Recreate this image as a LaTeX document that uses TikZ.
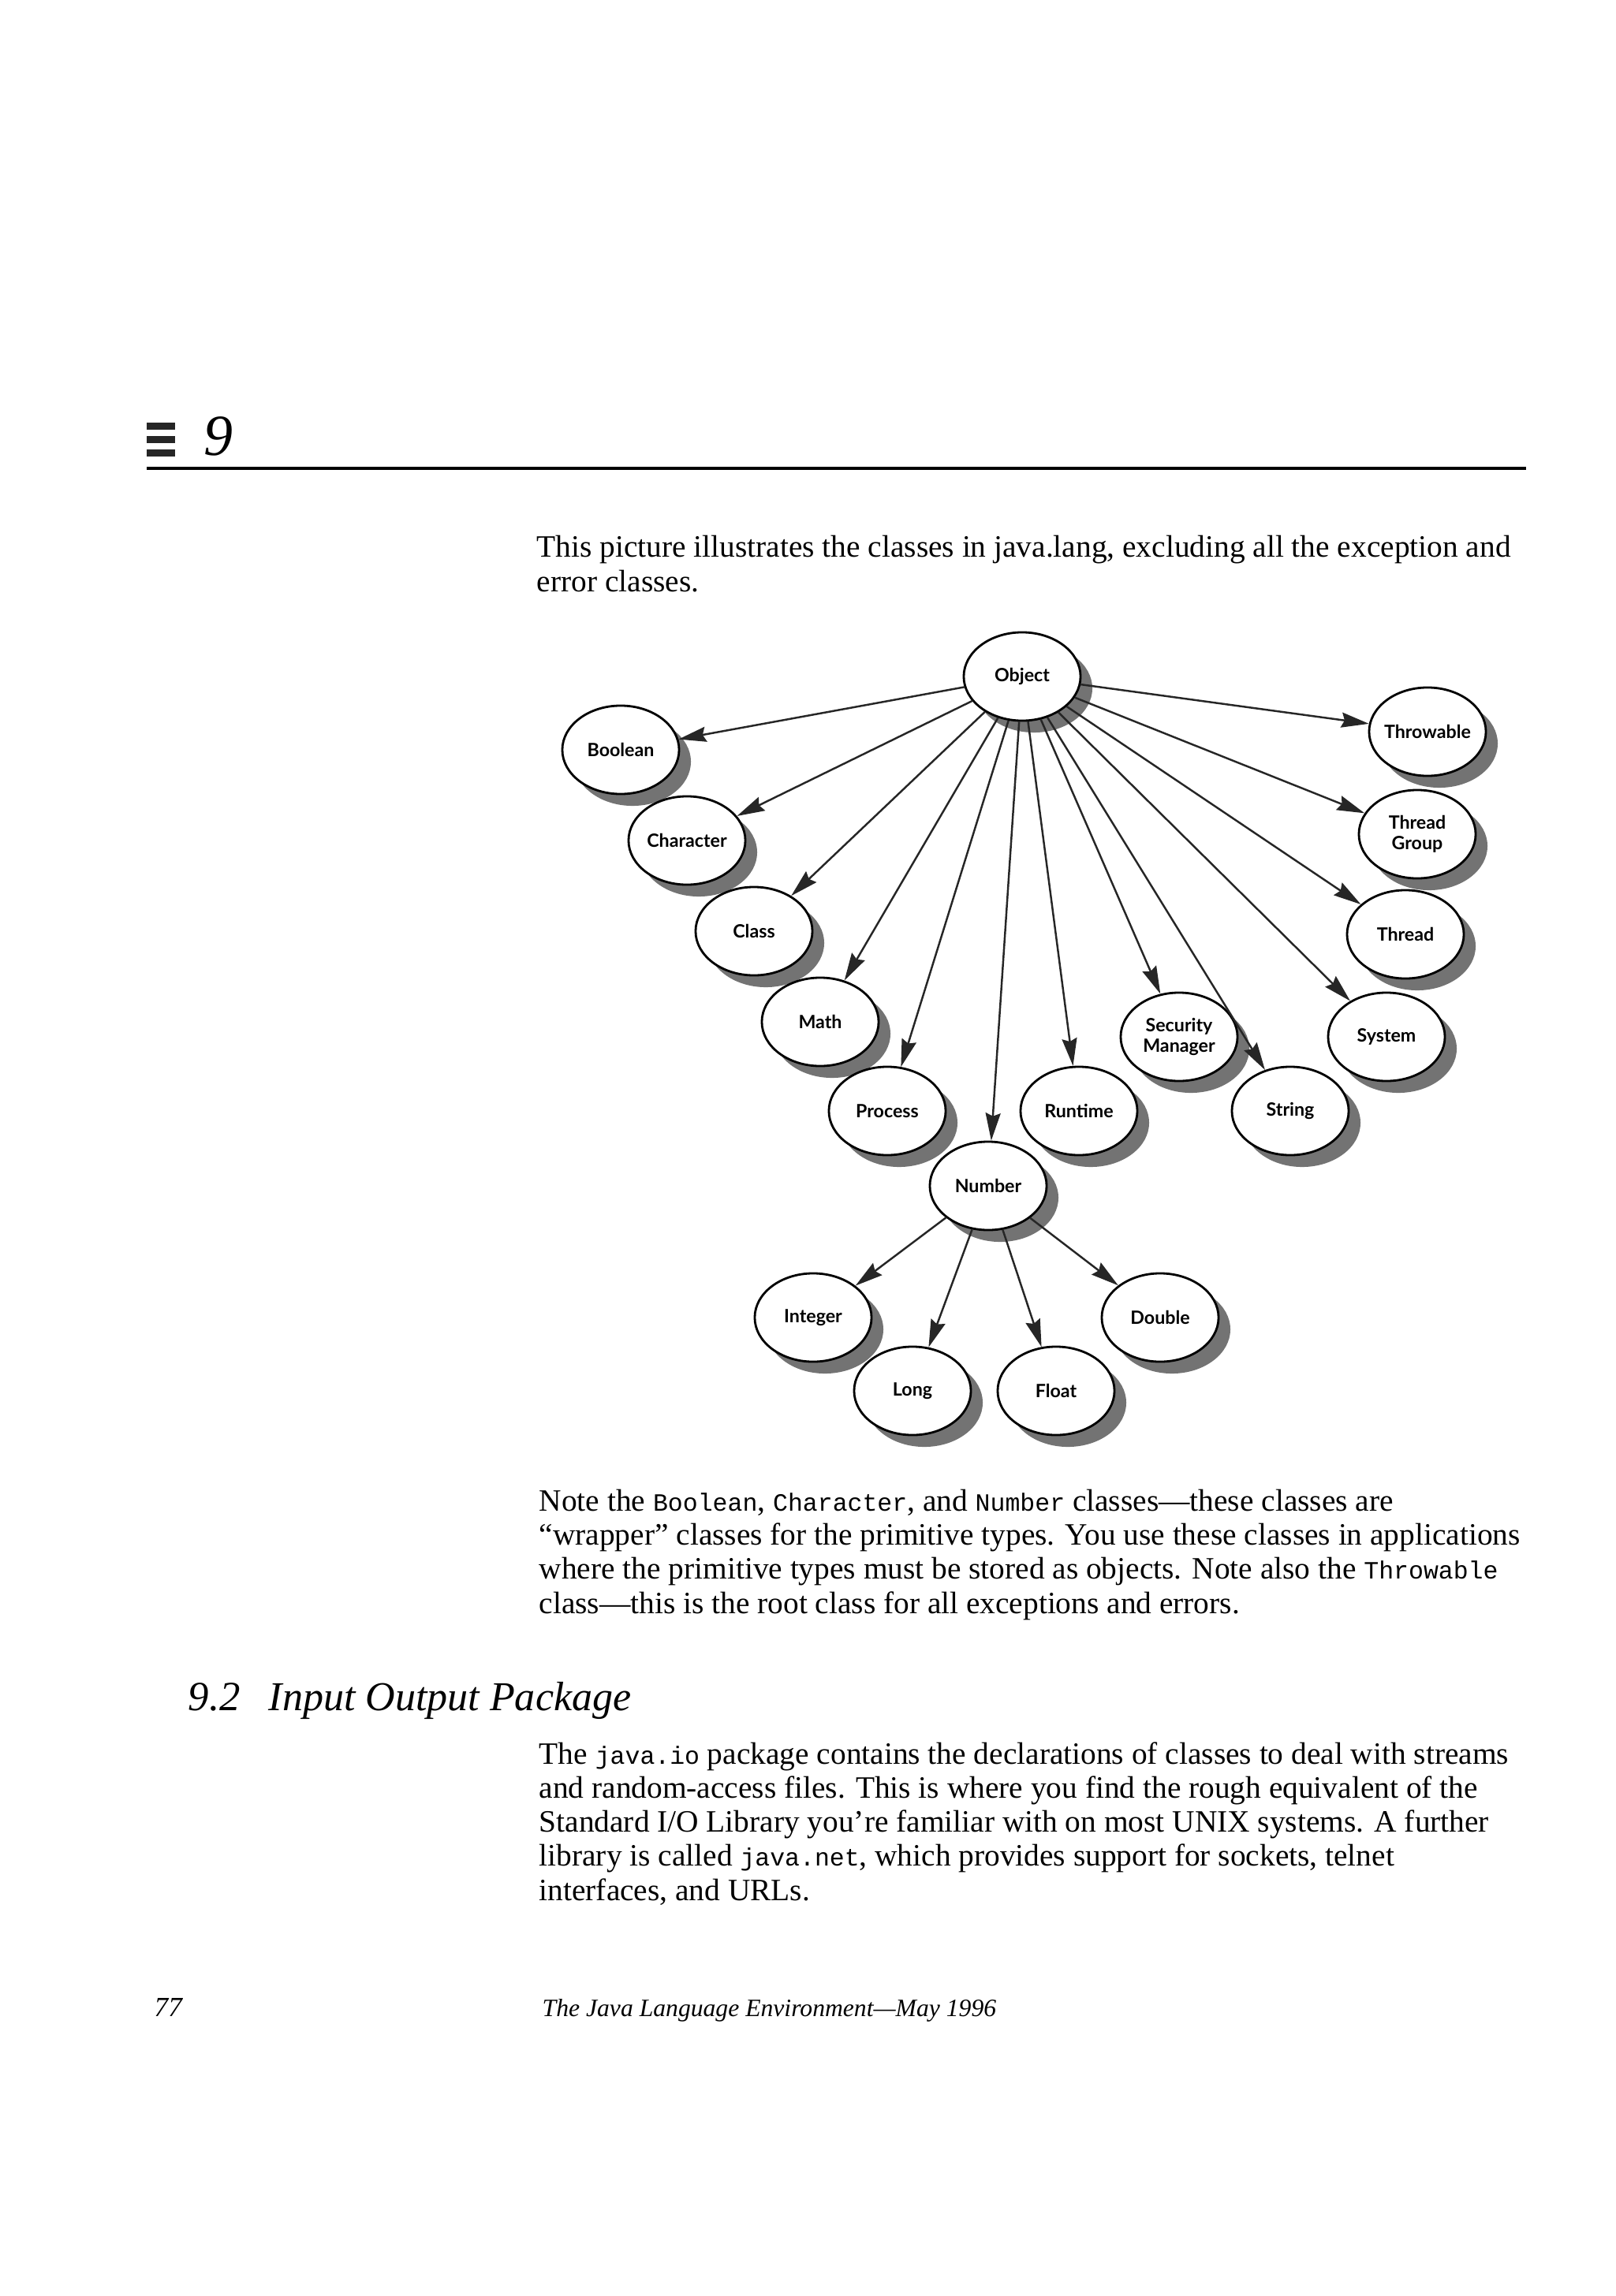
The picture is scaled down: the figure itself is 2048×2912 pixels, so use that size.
\documentclass[tikz,border=0pt]{standalone}
\usepackage{fontspec}
\setmainfont{Liberation Serif}
\setmonofont{Liberation Mono}[Scale=0.8]
\newfontfamily\labelfont{Lato}
\usetikzlibrary{shapes.geometric}
\usetikzlibrary{shadows}
\usetikzlibrary{arrows.meta}
\tikzset{classnode/.style={ellipse,draw,fill=white,line width=0.8pt,minimum width=1.48cm,minimum height=1.12cm,inner xsep=-2mm,inner ysep=0pt,align=center,font=\labelfont\bfseries\fontsize{6.6}{7.4}\selectfont,drop shadow={shadow xshift=1.5mm,shadow yshift=-1.5mm,fill=black!55,opacity=1}},inherit/.style={-{Stealth[length=3.5mm,width=1.9mm,inset=0.4mm]},line width=0.7pt,draw=black!85},bodytext/.style={anchor=base west,align=left,inner sep=0pt,font=\fontsize{11.2}{12.3}\selectfont}}

\begin{document}
\begin{tikzpicture}[x=0.01cm,y=-0.01cm]
\useasboundingbox (0,0) rectangle (2048,2912);
% chapter head
\fill[black!85] (186,536) rectangle (222,545);
\fill[black!85] (186,553) rectangle (222,562);
\fill[black!85] (186,570) rectangle (222,579);
\node[anchor=base west,inner sep=0pt,font=\fontsize{21}{21}\selectfont\itshape] (chapno) at (258,577) {9};
\draw[line width=1pt] (186,594) -- (1935,594);
% base anchor = last line
\node[bodytext] (intro) at (680,750) {This picture illustrates the classes in java.lang, excluding all the exception and\\error classes.};
% the class tree
\node[classnode] (object) at (1296,858) {Object};
\node[classnode] (boolean) at (787,951) {Boolean};
\node[classnode] (character) at (871,1066) {Character};
\node[classnode] (class) at (956,1181) {Class};
\node[classnode] (math) at (1040,1296) {Math};
\node[classnode] (process) at (1125,1409) {Process};
\node[classnode] (number) at (1253,1504) {Number};
\node[classnode] (runtime) at (1368,1409) {Runtime};
\node[classnode] (secman) at (1495,1315) {Security\\Manager};
\node[classnode] (string) at (1636,1409) {String};
\node[classnode] (system) at (1758,1315) {System};
\node[classnode] (thread) at (1782,1185) {Thread};
\node[classnode] (threadgroup) at (1797,1058) {Thread\\Group};
\node[classnode] (throwable) at (1810,928) {Throwable};
\node[classnode] (integer) at (1031,1671) {Integer};
\node[classnode] (long) at (1157,1764) {Long};
\node[classnode] (float) at (1339,1764) {Float};
\node[classnode] (double) at (1471,1671) {Double};
\foreach \child in {boolean,character,class,math,process,number,runtime,secman,string,system,thread,threadgroup,throwable}
  \draw[inherit] (object) -- (\child);
\foreach \child in {integer,long,float,double}
  \draw[inherit] (number) -- (\child);
% text below
\node[bodytext] (wrappers) at (683,2046) {Note the \texttt{Boolean}, \texttt{Character}, and \texttt{Number} classes---these classes are\\``wrapper'' classes for the primitive types. You use these classes in applications\\where the primitive types must be stored as objects. Note also the \texttt{Throwable}\\class---this is the root class for all exceptions and errors.};
\node[anchor=base west,inner sep=0pt,font=\fontsize{15}{15}\selectfont\itshape] (secno) at (238,2169) {9.2};
\node[anchor=base west,inner sep=0pt,font=\fontsize{14.8}{15}\selectfont\itshape] (sectitle) at (340,2169) {Input Output Package};
\node[bodytext] (iopara) at (683,2410) {The \texttt{java.io} package contains the declarations of classes to deal with streams\\and random-access files. This is where you find the rough equivalent of the\\Standard I/O Library you're familiar with on most UNIX systems. A further\\library is called \texttt{java.net}, which provides support for sockets, telnet\\interfaces, and URLs.};
\node[anchor=base west,inner sep=0pt,font=\fontsize{10}{10}\selectfont\itshape] (pageno) at (195,2557) {77};
\node[anchor=base west,inner sep=0pt,font=\fontsize{9}{9}\selectfont\itshape] (footer) at (687,2557) {The Java Language Environment---May 1996};
\end{tikzpicture}
\end{document}
